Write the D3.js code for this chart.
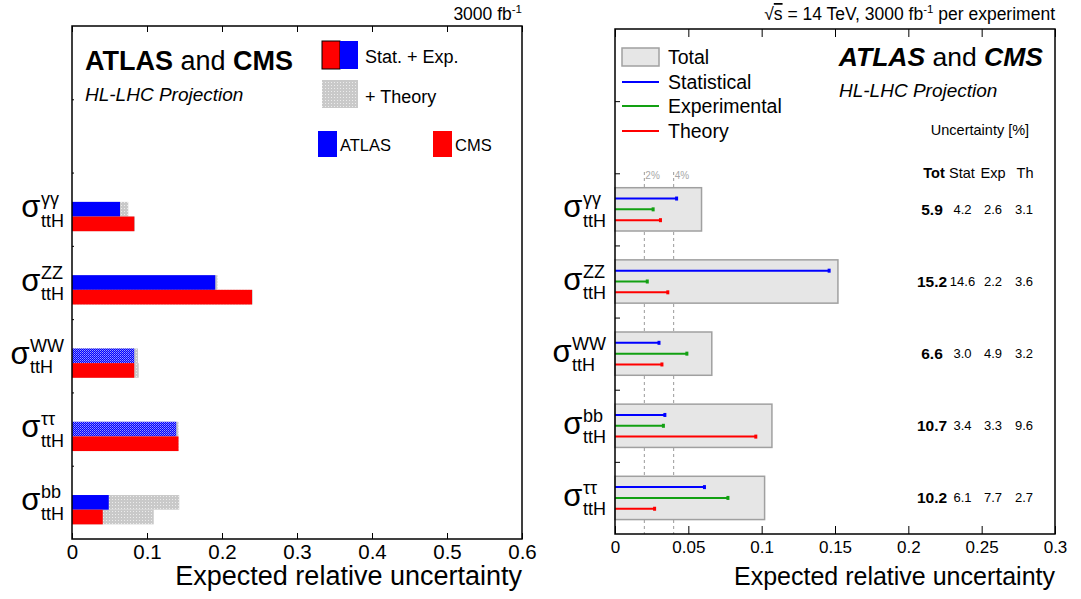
<!DOCTYPE html>
<html><head><meta charset="utf-8">
<script src="https://cdn.jsdelivr.net/npm/d3@7"></script>
<style>
body{margin:0;background:#fff;}
text{font-family:"Liberation Sans",Arial,Helvetica,sans-serif;fill:#000;}
</style></head><body>
<svg id="chart" width="1081" height="599"></svg>
<script>
// ---- Left panel: per-experiment ttH projections (top to bottom) ----
const leftChannels = ["γγ", "ZZ", "WW", "ττ", "bb"];
const atlasStatExp = [0.064, 0.191, 0.083, 0.139, 0.049];
const atlasTotal   = [0.075, 0.194, 0.088, 0.142, 0.143];
const cmsStatExp   = [0.083, 0.240, 0.083, 0.142, 0.041];
const cmsTotal     = [0.084, 0.241, 0.089, 0.142, 0.109];
const leftTickValues = [0, 0.1, 0.2, 0.3, 0.4, 0.5, 0.6];
const leftTickLabels = ["0", "0.1", "0.2", "0.3", "0.4", "0.5", "0.6"];

// ---- Right panel: combined breakdown, uncertainties in % ----
const rightChannels = ["γγ", "ZZ", "WW", "bb", "ττ"];
const totUnc  = [5.9, 15.2, 6.6, 10.7, 10.2];
const statUnc = [4.2, 14.6, 3.0, 3.4, 6.1];
const expUnc  = [2.6, 2.2, 4.9, 3.3, 7.7];
const thUnc   = [3.1, 3.6, 3.2, 9.6, 2.7];
const rightTickValues = [0, 0.05, 0.1, 0.15, 0.2, 0.25, 0.3];
const rightTickLabels = ["0", "0.05", "0.1", "0.15", "0.2", "0.25", "0.3"];
const guideLines = [2, 4];   // percent reference lines
const tableHeader = ["Tot", "Stat", "Exp", "Th"];

const svg = d3.select("#chart");
svg.append("rect").attr("width", 1081).attr("height", 599).attr("fill", "#fff");

const BLUE = "#0000ff", RED = "#ff0000", GREEN = "#12a012";
const FONT = "Liberation Sans, Arial, sans-serif";

// ---- fill patterns ----
const defs = svg.append("defs");
const pGray = defs.append("pattern").attr("id", "theory").attr("patternUnits", "userSpaceOnUse")
  .attr("width", 3).attr("height", 3);
pGray.append("rect").attr("width", 3).attr("height", 3).attr("fill", "#c9c9c9");
pGray.append("rect").attr("x", 1).attr("y", 1).attr("width", 1).attr("height", 1).attr("fill", "#ececec");
const pBlue = defs.append("pattern").attr("id", "atlasHatch").attr("patternUnits", "userSpaceOnUse")
  .attr("width", 2).attr("height", 2);
pBlue.append("rect").attr("width", 2).attr("height", 2).attr("fill", BLUE);
pBlue.append("rect").attr("width", 1).attr("height", 1).attr("fill", "#9a9aff");
pBlue.append("rect").attr("x", 1).attr("y", 1).attr("width", 1).attr("height", 1).attr("fill", "#6a6aff");
const hatchedAtlas = new Set(["WW", "ττ"]);

// σ^{X}_{ttH} label, right-aligned at xRight
function sigmaLabel(g, xRight, yc, channel) {
  const grp = g.append("g");
  const sup = grp.append("text").attr("font-size", 18).text(channel);
  const sub = grp.append("text").attr("font-size", 18).text("ttH");
  const w = Math.max(sup.node().getComputedTextLength(), sub.node().getComputedTextLength());
  const x0 = xRight - w;
  sup.attr("x", x0).attr("y", yc - 4);
  sub.attr("x", x0).attr("y", yc + 17.5);
  grp.append("text").attr("font-size", 31).attr("text-anchor", "end")
    .attr("x", x0 - 0.5).attr("y", yc + 8).text("σ");
}

// frame with inward ticks on bottom/top and band ticks on the left
function drawFrame(g, x, top, bottom, majors, labels, minorStep, majLen, minLen, bandLen, labelSize, pad) {
  const [x0, x1] = x.range();
  const minors = d3.range(0, x.domain()[1] + 1e-9, minorStep);
  const bot = g.append("g").attr("transform", `translate(0,${bottom})`);
  bot.call(d3.axisBottom(x).tickValues(minors).tickSizeInner(-minLen).tickSizeOuter(0).tickFormat(""));
  bot.call(d3.axisBottom(x).tickValues(majors).tickSizeInner(-majLen).tickSizeOuter(0)
    .tickPadding(pad).tickFormat((d, i) => labels[i]));
  bot.selectAll(".domain").remove();
  bot.selectAll("line").attr("stroke", "#000");
  bot.selectAll("text").attr("font-size", labelSize).attr("font-family", FONT);
  const tp = g.append("g").attr("transform", `translate(0,${top})`);
  tp.call(d3.axisTop(x).tickValues(minors).tickSizeInner(-minLen).tickSizeOuter(0).tickFormat(""));
  tp.call(d3.axisTop(x).tickValues(majors).tickSizeInner(-majLen).tickSizeOuter(0).tickFormat(""));
  tp.selectAll(".domain").remove();
  tp.selectAll("line").attr("stroke", "#000");
  // band boundaries on the vertical axis
  const yb = d3.scaleLinear().domain([0, 7]).range([top, bottom]);
  const lf = g.append("g").attr("transform", `translate(${x0},0)`);
  lf.call(d3.axisLeft(yb).tickValues(d3.range(1, 7)).tickSizeInner(-bandLen).tickSizeOuter(0).tickFormat(""));
  lf.selectAll(".domain").remove();
  lf.selectAll("line").attr("stroke", "#000");
  g.append("rect").attr("x", x0).attr("y", top).attr("width", x1 - x0).attr("height", bottom - top)
    .attr("fill", "none").attr("stroke", "#000").attr("stroke-width", 1.5);
}

// =================== LEFT PANEL ===================
const L = { left: 72, right: 522, top: 26, bottom: 539 };
const xL = d3.scaleLinear().domain([0, 0.6]).range([L.left, L.right]);
const yL = d3.scaleBand().domain(d3.range(7)).range([L.top, L.bottom]);
const gL = svg.append("g");
const bwL = yL.bandwidth();

leftChannels.forEach((ch, k) => {
  const b = yL(k + 2);
  // total (with theory) drawn first, stat+exp on top
  gL.append("rect").attr("x", xL(0)).attr("y", b + 0.4 * bwL).attr("height", 0.2 * bwL)
    .attr("width", xL(atlasTotal[k]) - xL(0)).attr("fill", "url(#theory)");
  gL.append("rect").attr("x", xL(0)).attr("y", b + 0.6 * bwL).attr("height", 0.2 * bwL)
    .attr("width", xL(cmsTotal[k]) - xL(0)).attr("fill", "url(#theory)");
  gL.append("rect").attr("x", xL(0)).attr("y", b + 0.4 * bwL).attr("height", 0.2 * bwL)
    .attr("width", xL(atlasStatExp[k]) - xL(0))
    .attr("fill", hatchedAtlas.has(ch) ? "url(#atlasHatch)" : BLUE);
  gL.append("rect").attr("x", xL(0)).attr("y", b + 0.6 * bwL).attr("height", 0.2 * bwL)
    .attr("width", xL(cmsStatExp[k]) - xL(0)).attr("fill", RED);
  sigmaLabel(gL, 64, b + 0.5 * bwL, ch);
});
drawFrame(gL, xL, L.top, L.bottom, leftTickValues, leftTickLabels, 0.02, 6, 3, 2, 20.5, 5);

gL.append("text").attr("x", L.right).attr("y", 585).attr("text-anchor", "end")
  .attr("font-size", 27).text("Expected relative uncertainty");

// header and legend
const t1 = gL.append("text").attr("x", 85).attr("y", 70).attr("font-size", 27);
t1.append("tspan").attr("font-weight", "bold").text("ATLAS");
t1.append("tspan").text(" and ");
t1.append("tspan").attr("font-weight", "bold").text("CMS");
gL.append("text").attr("x", 85).attr("y", 101).attr("font-size", 19).attr("font-style", "italic")
  .text("HL-LHC Projection");

const lumiL = gL.append("text").attr("x", L.right).attr("y", 20).attr("text-anchor", "end").attr("font-size", 17.5);
lumiL.append("tspan").text("3000 fb");
lumiL.append("tspan").attr("dy", -7).attr("font-size", 11.5).text("-1");

gL.append("rect").attr("x", 322).attr("y", 41).attr("width", 18).attr("height", 28).attr("fill", RED)
  .attr("stroke", "#000").attr("stroke-width", 1);
gL.append("rect").attr("x", 340).attr("y", 41).attr("width", 18).attr("height", 28).attr("fill", BLUE);
gL.append("text").attr("x", 365).attr("y", 57).attr("dy", "0.35em").attr("font-size", 18).text("Stat. + Exp.");
gL.append("rect").attr("x", 322).attr("y", 80).attr("width", 36).attr("height", 28).attr("fill", "url(#theory)");
gL.append("text").attr("x", 365).attr("y", 97).attr("dy", "0.35em").attr("font-size", 18).text("+ Theory");
gL.append("rect").attr("x", 318).attr("y", 131).attr("width", 19).attr("height", 26).attr("fill", BLUE);
gL.append("text").attr("x", 340).attr("y", 145).attr("dy", "0.35em").attr("font-size", 16.5).text("ATLAS");
gL.append("rect").attr("x", 433).attr("y", 131).attr("width", 19).attr("height", 26).attr("fill", RED);
gL.append("text").attr("x", 455).attr("y", 145).attr("dy", "0.35em").attr("font-size", 16.5).text("CMS");

// =================== RIGHT PANEL ===================
const R = { left: 615, right: 1055, top: 29, bottom: 534 };
const xR = d3.scaleLinear().domain([0, 0.3]).range([R.left, R.right]);
const yR = d3.scaleBand().domain(d3.range(7)).range([R.top, R.bottom]);
const gR = svg.append("g");
const bwR = yR.bandwidth();

// percent reference lines
guideLines.forEach(p => {
  gR.append("line").attr("x1", xR(p / 100)).attr("x2", xR(p / 100))
    .attr("y1", 172).attr("y2", R.bottom).attr("stroke", "#9a9a9a").attr("stroke-dasharray", "3,3");
  gR.append("text").attr("x", xR(p / 100) + 1).attr("y", 175).attr("dy", "0.35em")
    .attr("font-size", 10).style("fill", "#a8a8a8").text(p + "%");
});

rightChannels.forEach((ch, k) => {
  const b = yR(k + 2);
  gR.append("rect").attr("x", xR(0)).attr("y", b + 0.2 * bwR).attr("height", 0.6 * bwR)
    .attr("width", xR(totUnc[k] / 100) - xR(0)).attr("fill", "#e6e6e6")
    .attr("stroke", "#a0a0a0").attr("stroke-width", 1.5);
  [[statUnc[k], BLUE, 0.35], [expUnc[k], GREEN, 0.5], [thUnc[k], RED, 0.65]].forEach(([v, c, f]) => {
    const yy = b + f * bwR, xe = xR(v / 100);
    gR.append("line").attr("x1", xR(0)).attr("x2", xe).attr("y1", yy).attr("y2", yy)
      .attr("stroke", c).attr("stroke-width", 2);
    gR.append("rect").attr("x", xe - 1.5).attr("y", yy - 2).attr("width", 3).attr("height", 4).attr("fill", c);
  });
  sigmaLabel(gR, 606, b + 0.5 * bwR, ch);
  const yc = b + 0.5 * bwR;
  const fmt = d3.format(".1f");
  gR.append("text").attr("x", 932).attr("y", yc).attr("dy", "0.35em").attr("text-anchor", "middle")
    .attr("font-size", 15.5).attr("font-weight", "bold").text(fmt(totUnc[k]));
  [[statUnc[k], 962.5], [expUnc[k], 993], [thUnc[k], 1024]].forEach(([v, xx]) => {
    gR.append("text").attr("x", xx).attr("y", yc).attr("dy", "0.35em").attr("text-anchor", "middle")
      .attr("font-size", 13).text(fmt(v));
  });
});
drawFrame(gR, xR, R.top, R.bottom, rightTickValues, rightTickLabels, 0.01, 8, 4, 5, 17, 7);

gR.append("text").attr("x", R.right).attr("y", 585).attr("text-anchor", "end")
  .attr("font-size", 25).text("Expected relative uncertainty");

// table header
gR.append("text").attr("x", 980).attr("y", 130).attr("dy", "0.35em").attr("text-anchor", "middle")
  .attr("font-size", 14.5).text("Uncertainty [%]");
[934, 962, 993, 1025].forEach((xx, i) => {
  gR.append("text").attr("x", xx).attr("y", 173).attr("dy", "0.35em").attr("text-anchor", "middle")
    .attr("font-size", 14.5).attr("font-weight", i === 0 ? "bold" : "normal").text(tableHeader[i]);
});

// title block
const t2 = gR.append("text").attr("x", 1043).attr("y", 66).attr("text-anchor", "end").attr("font-size", 26.5);
t2.append("tspan").attr("font-weight", "bold").attr("font-style", "italic").text("ATLAS");
t2.append("tspan").text(" and ");
t2.append("tspan").attr("font-weight", "bold").attr("font-style", "italic").text("CMS");
gR.append("text").attr("x", 839).attr("y", 97).attr("font-size", 19).attr("font-style", "italic")
  .text("HL-LHC Projection");

const lumiR = gR.append("text").attr("x", R.right).attr("y", 20).attr("text-anchor", "end").attr("font-size", 17.5);
lumiR.append("tspan").text("√");
lumiR.append("tspan").attr("text-decoration", "overline").text("s");
lumiR.append("tspan").text(" = 14 TeV, 3000 fb");
lumiR.append("tspan").attr("dy", -7).attr("font-size", 11.5).text("-1");
lumiR.append("tspan").attr("dy", 7).text(" per experiment");

// legend
gR.append("rect").attr("x", 622).attr("y", 48).attr("width", 37).attr("height", 18)
  .attr("fill", "#e6e6e6").attr("stroke", "#a0a0a0").attr("stroke-width", 1.5);
gR.append("text").attr("x", 668).attr("y", 57).attr("dy", "0.35em").attr("font-size", 19.5).text("Total");
[["Statistical", BLUE, 82], ["Experimental", GREEN, 106], ["Theory", RED, 131]].forEach(([lab, c, yy]) => {
  gR.append("line").attr("x1", 622).attr("x2", 659).attr("y1", yy).attr("y2", yy)
    .attr("stroke", c).attr("stroke-width", 2);
  gR.append("text").attr("x", 668).attr("y", yy).attr("dy", "0.35em").attr("font-size", 19.5).text(lab);
});
</script>
</body></html>
